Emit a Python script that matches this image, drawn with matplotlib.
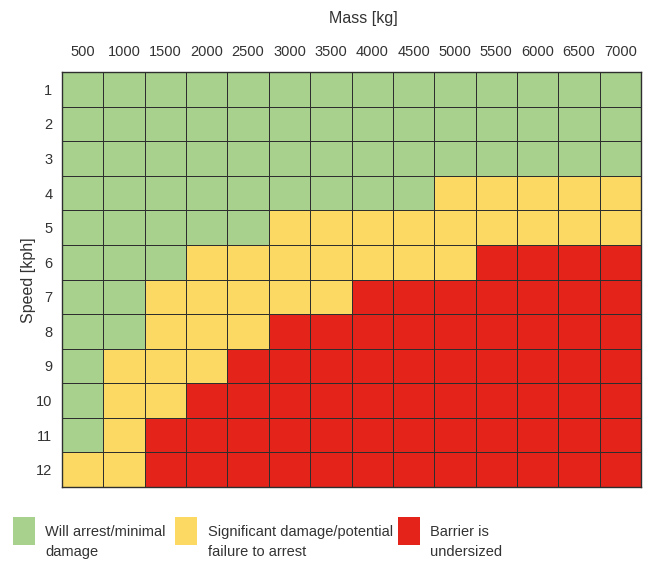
import matplotlib.pyplot as plt
from matplotlib.colors import ListedColormap
from matplotlib.patches import Rectangle
import numpy as np

plt.rcParams['font.family'] = ['Liberation Sans Narrow', 'Liberation Sans', 'DejaVu Sans']

masses = [500, 1000, 1500, 2000, 2500, 3000, 3500, 4000, 4500, 5000, 5500, 6000, 6500, 7000]
speeds = list(range(1, 13))

# 0 = will arrest, 1 = significant damage, 2 = undersized
rating = [
    [0, 0, 0, 0, 0, 0, 0, 0, 0, 0, 0, 0, 0, 0],
    [0, 0, 0, 0, 0, 0, 0, 0, 0, 0, 0, 0, 0, 0],
    [0, 0, 0, 0, 0, 0, 0, 0, 0, 0, 0, 0, 0, 0],
    [0, 0, 0, 0, 0, 0, 0, 0, 0, 1, 1, 1, 1, 1],
    [0, 0, 0, 0, 0, 1, 1, 1, 1, 1, 1, 1, 1, 1],
    [0, 0, 0, 1, 1, 1, 1, 1, 1, 1, 2, 2, 2, 2],
    [0, 0, 1, 1, 1, 1, 1, 2, 2, 2, 2, 2, 2, 2],
    [0, 0, 1, 1, 1, 2, 2, 2, 2, 2, 2, 2, 2, 2],
    [0, 1, 1, 1, 2, 2, 2, 2, 2, 2, 2, 2, 2, 2],
    [0, 1, 1, 2, 2, 2, 2, 2, 2, 2, 2, 2, 2, 2],
    [0, 1, 2, 2, 2, 2, 2, 2, 2, 2, 2, 2, 2, 2],
    [1, 1, 2, 2, 2, 2, 2, 2, 2, 2, 2, 2, 2, 2],
]

labels = ['Will arrest/minimal\ndamage', 'Significant damage/potential\nfailure to arrest',
          'Barrier is\nundersized']
colors = ['#a9d18e', '#fbd963', '#e4231b']
txt = '#333333'

fig = plt.figure(figsize=(6.56, 5.65), dpi=100)
ax = fig.add_axes([62 / 656, 1 - 487 / 565, 579 / 656, 415 / 565])

ax.pcolormesh(np.array(rating), cmap=ListedColormap(colors), vmin=-0.5, vmax=2.5,
              edgecolors='#2e2e2e', linewidth=0.7)
ax.set_xlim(0, len(masses))
ax.set_ylim(len(speeds), 0)
ax.xaxis.tick_top()
ax.set_xticks(np.arange(len(masses)) + 0.5)
ax.set_xticklabels(masses)
ax.set_yticks(np.arange(len(speeds)) + 0.5)
ax.set_yticklabels(speeds)
ax.tick_params(length=0, labelsize=10.5, labelcolor=txt, pad=7)
ax.tick_params(axis='x', pad=9)
for s in ax.spines.values():
    s.set_color('#2e2e2e')
    s.set_linewidth(1.0)

fig.text(363 / 656, 1 - 18 / 565, 'Mass [kg]', ha='center', va='center', fontsize=11.5, color=txt)
fig.text(28 / 656, 1 - 280 / 565, 'Speed [kph]', ha='center', va='center', rotation=90,
         fontsize=11.5, color=txt)

# legend
box_x = [13, 175, 398]
text_x = [45, 208, 430]
for bx, tx, c, lab in zip(box_x, text_x, colors, labels):
    fig.patches.append(Rectangle((bx / 656, 1 - 545 / 565), 22 / 656, 28 / 565,
                                 transform=fig.transFigure, facecolor=c, edgecolor='none'))
    fig.text(tx / 656, 1 - 542 / 565, lab, ha='left', va='center', fontsize=10.5,
             color=txt, linespacing=1.55)

fig.savefig('out.png', dpi=100)
